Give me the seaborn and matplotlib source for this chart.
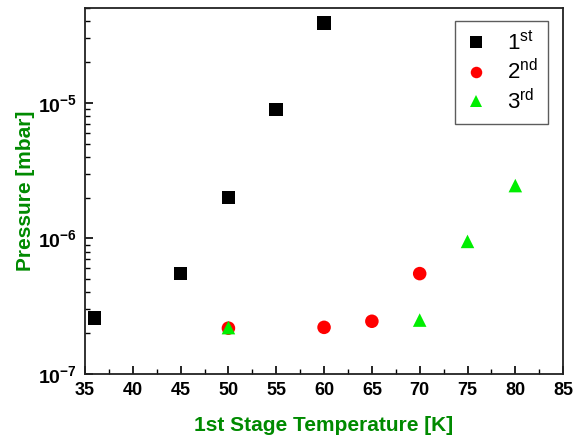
import numpy as np
import pandas as pd
import matplotlib
matplotlib.use("Agg")
import matplotlib.pyplot as plt
import seaborn as sns
from matplotlib.ticker import LogLocator, FixedLocator, MultipleLocator, NullFormatter

# data
t1 = [36, 45, 50, 55, 60]
p1 = [2.58e-7, 5.5e-7, 2.0e-6, 8.9e-6, 3.87e-5]
t2 = [50, 60, 65, 70]
p2 = [2.18e-7, 2.21e-7, 2.45e-7, 5.5e-7]
t3 = [50, 70, 75, 80]
p3 = [2.2e-7, 2.5e-7, 9.5e-7, 2.45e-6]
labels = ["1$^{\\mathrm{st}}$", "2$^{\\mathrm{nd}}$", "3$^{\\mathrm{rd}}$"]
xticks = [35, 40, 45, 50, 55, 60, 65, 70, 75, 80, 85]
yticks = [1e-7, 1e-6, 1e-5]
ytick_labels = ["$\\mathbf{10^{-7}}$", "$\\mathbf{10^{-6}}$", "$\\mathbf{10^{-5}}$"]

sns.set_style("ticks")
plt.rcParams['font.family'] = ['Liberation Sans', 'DejaVu Sans']
plt.rcParams['mathtext.fontset'] = 'custom'
plt.rcParams['mathtext.rm'] = 'Liberation Sans'
plt.rcParams['mathtext.bf'] = 'Liberation Sans:bold'
plt.rcParams['mathtext.it'] = 'Liberation Sans:italic'
plt.rcParams['text.color'] = 'black'
plt.rcParams['xtick.color'] = 'black'
plt.rcParams['ytick.color'] = 'black'
plt.rcParams['axes.edgecolor'] = 'black'

df = pd.concat([
    pd.DataFrame({"T": t1, "P": p1, "run": labels[0]}),
    pd.DataFrame({"T": t2, "P": p2, "run": labels[1]}),
    pd.DataFrame({"T": t3, "P": p3, "run": labels[2]}),
])

fig = plt.figure(figsize=(5.86, 4.37), dpi=100)
ax = fig.add_axes([0.145, 0.144, 0.816, 0.838])

sns.scatterplot(data=df, x="T", y="P", hue="run", style="run",
                palette=["black", "#ff0000", "#00ee00"], markers=["s", "o", "^"],
                s=95, linewidth=0, ax=ax, legend=True)

ax.set_yscale("log")
ax.set_xlim(35, 85)
ax.set_ylim(1e-7, 5e-5)

ax.xaxis.set_major_locator(FixedLocator(xticks))
ax.xaxis.set_minor_locator(MultipleLocator(2.5))
ax.set_xticklabels([str(v) for v in xticks], fontsize=13, fontweight='bold')
ax.yaxis.set_major_locator(FixedLocator(yticks))
ax.yaxis.set_minor_locator(LogLocator(base=10, subs=np.arange(2, 10)))
ax.yaxis.set_minor_formatter(NullFormatter())
ax.set_yticklabels(ytick_labels, fontsize=14)

ax.tick_params(which='major', direction='in', length=6, width=1.2, pad=6, top=False, right=False,
               labelcolor='black')
ax.tick_params(which='minor', direction='in', length=3.5, width=1.0, top=False, right=False)
for s in ax.spines.values():
    s.set_linewidth(1.3)
    s.set_color("#222222")

ax.set_xlabel("1st Stage Temperature [K]", fontsize=15, fontweight='bold', color='#008a00', labelpad=12)
ax.set_ylabel("Pressure [mbar]", fontsize=15, fontweight='bold', color='#008a00', labelpad=2)

leg = ax.legend(loc='upper right', bbox_to_anchor=(0.9686, 0.9645), borderaxespad=0,
                fontsize=16, frameon=True, fancybox=False, edgecolor='#333333',
                handlelength=1.0, handletextpad=0.9, labelspacing=0.2,
                borderpad=0.45, markerscale=0.85)
leg.get_frame().set_linewidth(1.0)

fig.savefig("out.png", dpi=100)
